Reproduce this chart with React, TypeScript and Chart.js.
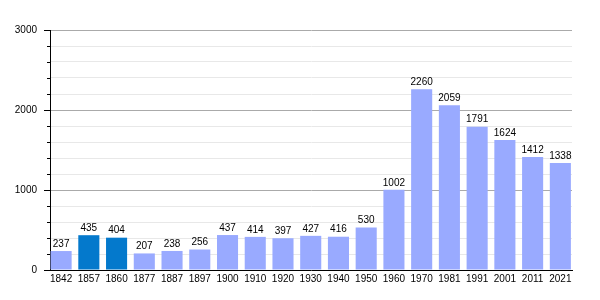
import React, { useEffect, useRef } from "react";
import { Chart, registerables } from "chart.js";

Chart.register(...registerables);

const years = ["1842", "1857", "1860", "1877", "1887", "1897", "1900", "1910", "1920", "1930", "1940", "1950", "1960", "1970", "1981", "1991", "2001", "2011", "2021"];
const population = [237, 435, 404, 207, 238, 256, 437, 414, 397, 427, 416, 530, 1002, 2260, 2059, 1791, 1624, 1412, 1338];
const highlighted = ["1857", "1860"];
const yTickStep = 200;
const yMajorStep = 1000;
const yMax = 3000;

const FONT = "'Liberation Sans', Arial, sans-serif";
const FONT_SIZE = 10;

export default function App() {
  const ref = useRef<HTMLCanvasElement | null>(null);

  useEffect(() => {
    if (!ref.current) return;

    const labelPlugin = {
      id: "valueLabels",
      afterDatasetsDraw(chart: any) {
        const ctx = chart.ctx;
        const meta = chart.getDatasetMeta(0);
        ctx.save();
        ctx.font = `${FONT_SIZE}px ${FONT}`;
        ctx.fillStyle = "#000";
        ctx.textAlign = "center";
        ctx.textBaseline = "bottom";
        meta.data.forEach((el: any, i: number) => {
          ctx.fillText(String(population[i]), el.x, el.y - 2);
        });
        ctx.restore();
      },
    };

    const minorTicks = {
      id: "minorTicks",
      afterDraw(chart: any) {
        const s = chart.scales.y;
        const ctx = chart.ctx;
        ctx.save();
        ctx.strokeStyle = "#000";
        ctx.lineWidth = 1;
        s.ticks.forEach((t: any) => {
          if (t.value % yMajorStep === 0) return;
          const y = Math.round(s.getPixelForValue(t.value)) + 0.5;
          ctx.beginPath();
          ctx.moveTo(s.right - 3, y);
          ctx.lineTo(s.right, y);
          ctx.stroke();
        });
        ctx.restore();
      },
    };

    const chart = new Chart(ref.current, {
      type: "bar",
      data: {
        datasets: [
          {
            data: population.map((v, i) => ({ x: i, y: v })),
            backgroundColor: years.map((y) => (highlighted.includes(y) ? "#0479cc" : "#99aaff")),
            borderWidth: 0,
            categoryPercentage: 1,
            barPercentage: 0.76,
          },
        ],
      },
      options: {
        animation: false,
        responsive: false,
        maintainAspectRatio: false,
        layout: { padding: { top: 30, right: 28, left: 0, bottom: 0 } },
        plugins: { legend: { display: false }, tooltip: { enabled: false } },
        scales: {
          x: {
            type: "linear",
            offset: false,
            min: -0.4,
            max: 18.42,
            afterBuildTicks: (scale: any) => {
              scale.ticks = years.map((_, i) => ({ value: i }));
            },
            afterFit: (scale: any) => {
              scale.height = 30;
            },
            grid: { display: false, drawTicks: false, offset: false },
            border: { display: true, color: "#000", width: 1 },
            ticks: {
              autoSkip: false,
              maxRotation: 0,
              padding: 3,
              color: "#000",
              font: { family: FONT, size: FONT_SIZE },
              callback: (v: any) => years[v] ?? "",
            },
          },
          y: {
            min: 0,
            max: yMax,
            afterFit: (scale: any) => {
              scale.width = 50;
            },
            grid: {
              color: (c: any) => (c.tick && c.tick.value % yMajorStep === 0 ? (c.tick.value === 0 ? "rgba(0,0,0,0)" : "#aaaaaa") : "#e8e8e8"),
              tickColor: (c: any) => (c.tick && c.tick.value % yMajorStep === 0 ? "#000" : "rgba(0,0,0,0)"),
              tickLength: 6,
              lineWidth: 1,
            },
            border: { display: true, color: "#000", width: 1 },
            ticks: {
              stepSize: yTickStep,
              autoSkip: false,
              padding: 7,
              color: "#000",
              font: { family: FONT, size: FONT_SIZE },
              callback: (v: any) => (Number(v) % yMajorStep === 0 ? String(v) : ""),
            },
          },
        },
      },
      plugins: [labelPlugin, minorTicks],
    });

    return () => chart.destroy();
  }, []);

  return (
    <div style={{ position: "absolute", left: 0, top: 0, width: 600, height: 300, background: "#fff" }}>
      <canvas ref={ref} width={600} height={300} style={{ width: 600, height: 300, display: "block" }} />
    </div>
  );
}
